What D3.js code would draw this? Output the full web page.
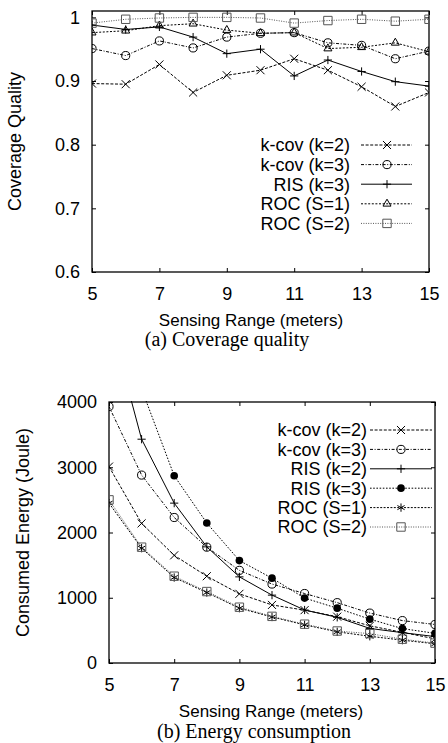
<!DOCTYPE html>
<html>
<head>
<meta charset="utf-8">
<script src="https://cdn.jsdelivr.net/npm/d3@7"></script>
<style>
body{margin:0;background:#fff}
svg{display:block}
</style>
</head>
<body>
<div id="chart"></div>
<script>
// datos
const rango = [5,6,7,8,9,10,11,12,13,14,15]
const ticksX = [5,7,9,11,13,15]
const ticksCalidad = [0.6,0.7,0.8,0.9,1]
const ticksEnergia = [0,1000,2000,3000,4000]

// (a) calidad de cobertura
const calKcov2 = [0.896,0.895,0.926,0.882,0.909,0.917,0.935,0.917,0.891,0.860,0.882]
const calKcov3 = [0.951,0.940,0.963,0.952,0.969,0.975,0.976,0.960,0.956,0.935,0.947]
const calRis3  = [0.988,0.981,0.985,0.969,0.943,0.950,0.908,0.933,0.915,0.899,0.892]
const calRoc1  = [0.976,0.979,0.987,0.990,0.980,0.975,0.976,0.951,0.953,0.960,0.946]
const calRoc2  = [0.991,0.997,0.999,1.000,1.000,0.999,0.991,0.995,0.997,0.994,0.997]
const nombresCal = ["k-cov (k=2)","k-cov (k=3)","RIS (k=3)","ROC (S=1)","ROC (S=2)"]

// (b) energia consumida
const enKcov2 = [3010,2140,1650,1330,1060,890,810,710,570,470,370]
const enKcov3 = [3930,2880,2230,1775,1420,1210,1065,925,765,650,590]
const enRis2  = [5300,3430,2450,1780,1320,1040,812,700,530,465,405]
const enRis3  = [6000,4200,2870,2145,1570,1300,995,840,672,527,455]
const enRoc1  = [2450,1760,1310,1080,840,705,585,478,410,350,295]
const enRoc2  = [2500,1775,1330,1095,855,715,595,490,450,365,305]
const nombresEn = ["k-cov (k=2)","k-cov (k=3)","RIS (k=2)","RIS (k=3)","ROC (S=1)","ROC (S=2)"]

//constantes
const ancho = 448
const alto = 743
const sans = "'Liberation Sans', Arial, Helvetica, sans-serif"
const serif = "'Liberation Serif', 'Times New Roman', serif"

const svg = d3.select("#chart").append("svg")
  .attr("width", ancho).attr("height", alto)
  .style("font-family", sans)

// estilos de cada serie: simbolo, tamaño, trazo, relleno
const estilos = {
  x:   {sym: d3.symbolTimes, size: 44, dash: "3,1.6", fill: "none", color: "#000"},
  o:   {sym: d3.symbolCircle, size: 52, dash: "3,1.6,1,1.6", fill: "none", color: "#000"},
  plus:{sym: d3.symbolPlus, size: 24, dash: null, fill: "none", color: "#000"},
  dot: {sym: d3.symbolCircle, size: 46, dash: "1.6,1.6", fill: "#000", color: "#000"},
  tri: {sym: d3.symbolTriangle2, size: 46, dash: "2,1.6", fill: "none", color: "#000"},
  ast: {sym: d3.symbolAsterisk, size: 48, dash: "2,1.4", fill: "none", color: "#000"},
  sq:  {sym: d3.symbolSquare2, size: 90, dash: "1,1.4", fill: "none", color: "#555"}
}

function panel(p){
  const g = svg.append("g").attr("id", p.id)
  const x = d3.scaleLinear().domain([5,15]).range([p.left, p.right])
  const y = d3.scaleLinear().domain(p.yDom).range([p.bottom, p.top])

  //ejes con marcas hacia dentro
  g.append("g").attr("transform", `translate(0,${p.bottom})`)
    .call(d3.axisBottom(x).tickValues(ticksX).tickSize(-4).tickSizeOuter(0).tickPadding(15))
  g.append("g").attr("transform", `translate(0,${p.top})`)
    .call(d3.axisTop(x).tickValues(ticksX).tickSize(-4).tickSizeOuter(0).tickFormat(""))
  g.append("g").attr("transform", `translate(${p.left},0)`)
    .call(d3.axisLeft(y).tickValues(p.yTicks).tickSize(-4).tickSizeOuter(0).tickPadding(12).tickFormat(d3.format("~g")))
  g.append("g").attr("transform", `translate(${p.right},0)`)
    .call(d3.axisRight(y).tickValues(p.yTicks).tickSize(-4).tickSizeOuter(0).tickFormat(""))
  g.selectAll(".domain").remove()
  g.selectAll(".tick line").attr("stroke", "#000")
  g.selectAll(".tick text").attr("font-size", 18).attr("font-family", sans).attr("fill", "#000")

  g.append("rect")
    .attr("x", p.left).attr("y", p.top)
    .attr("width", p.right - p.left).attr("height", p.bottom - p.top)
    .attr("fill", "none").attr("stroke", "#000").attr("stroke-width", 1.3)

  // recorte
  svg.append("clipPath").attr("id", "clip-" + p.id).append("rect")
    .attr("x", p.left).attr("y", p.top - 1)
    .attr("width", p.right - p.left).attr("height", p.bottom - p.top + 1)
  const zona = g.append("g").attr("clip-path", `url(#clip-${p.id})`)

  const linea = d3.line().x(d => x(d[0])).y(d => y(d[1]))

  p.series.forEach((s, i) => {
    const e = estilos[s.estilo]
    const pts = rango.map((r, j) => [r, s.valores[j]])
    zona.append("path").datum(pts)
      .attr("d", linea)
      .attr("fill", "none")
      .attr("stroke", e.color)
      .attr("stroke-width", 1)
      .attr("stroke-dasharray", e.dash)
    zona.selectAll(null).data(pts).enter().append("path")
      .attr("transform", d => `translate(${x(d[0])},${y(d[1])})`)
      .attr("d", d3.symbol().type(e.sym).size(e.size))
      .attr("fill", e.fill)
      .attr("stroke", e.fill === "none" ? e.color : "none")
      .attr("stroke-width", 1)

    // leyenda
    const ly = p.legY + i * p.legStep
    g.append("text")
      .attr("x", p.legText).attr("y", ly).attr("dy", "0.35em")
      .attr("text-anchor", "end").attr("font-size", 18)
      .text(s.nombre)
    g.append("line")
      .attr("x1", p.legLine[0]).attr("x2", p.legLine[1])
      .attr("y1", ly).attr("y2", ly)
      .attr("stroke", e.color).attr("stroke-dasharray", e.dash)
    g.append("path")
      .attr("transform", `translate(${p.legMark},${ly})`)
      .attr("d", d3.symbol().type(e.sym).size(e.size))
      .attr("fill", e.fill)
      .attr("stroke", e.fill === "none" ? e.color : "none")
  })

  //titulos
  g.append("text")
    .attr("transform", `translate(${p.yTitleX},${(p.top + p.bottom) / 2}) rotate(-90)`)
    .attr("text-anchor", "middle").attr("font-size", 18)
    .text(p.yTitle)
  g.append("text")
    .attr("x", p.xTitleX).attr("y", p.xTitleY)
    .attr("text-anchor", "middle").attr("font-size", 17)
    .text("Sensing Range (meters)")
  g.append("text")
    .attr("x", p.capX).attr("y", p.capY)
    .attr("text-anchor", "middle").attr("font-size", 20)
    .attr("font-family", serif)
    .text(p.caption)
}

panel({
  id: "cal", left: 92, right: 429, top: 11, bottom: 272,
  yDom: [0.6, 1.01], yTicks: ticksCalidad,
  series: [
    {nombre: nombresCal[0], valores: calKcov2, estilo: "x"},
    {nombre: nombresCal[1], valores: calKcov3, estilo: "o"},
    {nombre: nombresCal[2], valores: calRis3, estilo: "plus"},
    {nombre: nombresCal[3], valores: calRoc1, estilo: "tri"},
    {nombre: nombresCal[4], valores: calRoc2, estilo: "sq"}
  ],
  legY: 145, legStep: 19.6, legText: 350, legLine: [361, 412], legMark: 387,
  yTitle: "Coverage Quality", yTitleX: 21,
  xTitleX: 251, xTitleY: 326,
  caption: "(a)  Coverage quality", capX: 227, capY: 346
})

panel({
  id: "en", left: 109, right: 435, top: 402, bottom: 663,
  yDom: [0, 4000], yTicks: ticksEnergia,
  series: [
    {nombre: nombresEn[0], valores: enKcov2, estilo: "x"},
    {nombre: nombresEn[1], valores: enKcov3, estilo: "o"},
    {nombre: nombresEn[2], valores: enRis2, estilo: "plus"},
    {nombre: nombresEn[3], valores: enRis3, estilo: "dot"},
    {nombre: nombresEn[4], valores: enRoc1, estilo: "ast"},
    {nombre: nombresEn[5], valores: enRoc2, estilo: "sq"}
  ],
  legY: 430, legStep: 19.4, legText: 367, legLine: [370, 432], legMark: 401,
  yTitle: "Consumed Energy (Joule)", yTitleX: 29,
  xTitleX: 271, xTitleY: 717,
  caption: "(b)  Energy consumption", capX: 254, capY: 738
})
</script>
</body>
</html>
